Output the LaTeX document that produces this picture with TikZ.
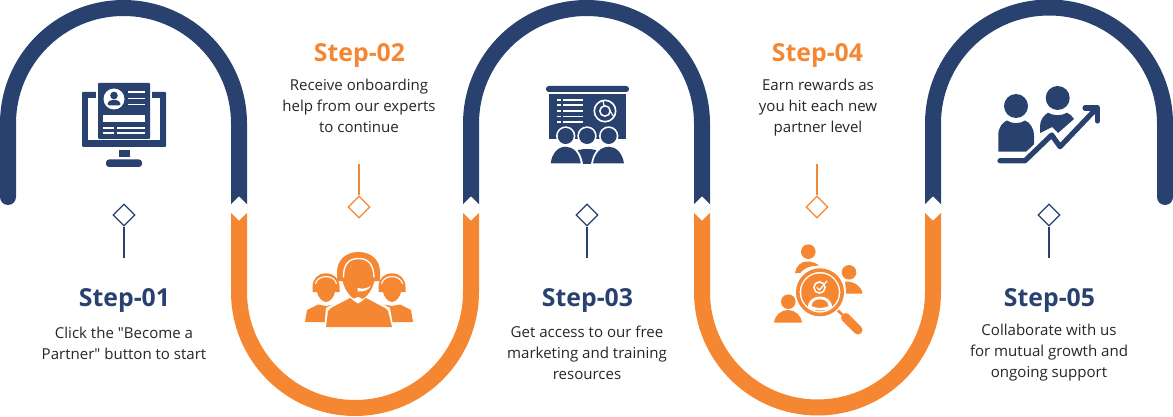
\documentclass[tikz,border=0pt]{standalone}
\usepackage{fontspec}
\setmainfont{Open Sans}
\newfontfamily\plainos{Open Sans}
\definecolor{navy}{HTML}{28416F}
\definecolor{orng}{HTML}{F58733}
\usetikzlibrary{shapes.geometric}
\tikzset{
  band/.style={line width=16pt,line cap=butt},
  title/.style={font=\fontsize{24.8}{28}\selectfont\bfseries,inner sep=0pt,anchor=center},
  body/.style={font=\fontsize{15.05}{21}\selectfont,align=center,inner sep=0pt,anchor=center,text=black!85},
  gem/.style={draw=#1,fill=white,line width=1.3pt,diamond,aspect=1,minimum size=22pt,inner sep=0pt},
  stem/.style={draw=#1,line width=1.3pt},
}
\newcommand{\whitegap}[1]{\fill[white] (#1,196.5) -- (#1+8.6,205) -- (#1+8.6,212) -- (#1,220.5) -- (#1-8.6,212) -- (#1-8.6,205) -- cycle;}
\begin{document}
\begin{tikzpicture}[x=1pt,y=-1pt]
\useasboundingbox (0,0) rectangle (1173,417);
% bands
\draw[band,navy] (8,197) -- (8,123.5) arc[start angle=180,end angle=360,radius=115.5] -- (239,208);
\fill[navy] (8,197) circle[radius=8];
\draw[band,orng] (239,208) -- (239,292) arc[start angle=180,end angle=0,radius=116] -- (471,208);
\draw[band,navy] (471,208) -- (471,123.5) arc[start angle=180,end angle=360,radius=115.5] -- (702,208);
\draw[band,orng] (702,208) -- (702,292) arc[start angle=180,end angle=0,radius=115.5] -- (933,208);
\draw[band,navy] (933,208) -- (933,123.5) arc[start angle=180,end angle=360,radius=116] -- (1165,197);
\fill[navy] (1165,197) circle[radius=8];
\whitegap{239}\whitegap{471}\whitegap{702}\whitegap{933}
% markers
\node[gem=navy] (g1) at (124,215) {};
\coordinate (e1) at (124,258);
\draw[stem=navy] (g1.south) -- (e1);
\node[gem=orng] (g2) at (359,207) {};
\coordinate (e2) at (359,164);
\draw[stem=orng] (g2.north) -- (e2);
\node[gem=navy] (g3) at (587,215) {};
\coordinate (e3) at (587,258);
\draw[stem=navy] (g3.south) -- (e3);
\node[gem=orng] (g4) at (817,207) {};
\coordinate (e4) at (817,164);
\draw[stem=orng] (g4.north) -- (e4);
\node[gem=navy] (g5) at (1049,215) {};
\coordinate (e5) at (1049,258);
\draw[stem=navy] (g5.south) -- (e5);
% texts
\node[title,text=navy] (t1) at (124.5,300.5) {Step-01};
\node[body] (b1) at (124,343) {Click the {\plainos"}Become a\\Partner{\plainos"} button to start};
\node[title,text=orng] (t2) at (359.5,55.5) {Step-02};
\node[body] (b2) at (359,106) {Receive onboarding\\help from our experts\\to continue};
\node[title,text=navy] (t3) at (587.5,300.5) {Step-03};
\node[body] (b3) at (587,353) {Get access to our free\\marketing and training\\resources};
\node[title,text=orng] (t4) at (817.5,55.5) {Step-04};
\node[body] (b4) at (818,108) {Earn rewards as\\you hit each new\\partner level};
\node[title,text=navy] (t5) at (1049.5,300.5) {Step-05};
\node[body] (b5) at (1049,353) {Collaborate with us\\for mutual growth and\\ongoing support};
% icon 1: monitor
\begin{scope}
\fill[navy,rounded corners=1pt] (82,92) rectangle (166,147);
\fill[white] (88,98) rectangle (160,140.5);
\fill[white] (96,90) rectangle (152,99);
\fill[navy,rounded corners=1pt] (98,83) rectangle (150,139);
\fill[navy] (118.5,150) rectangle (129.5,157);
\fill[navy,rounded corners=3pt] (106,159.5) rectangle (142,167);
\fill[white] (114,99) circle[radius=10.5];
\fill[navy] (114,95.5) circle[radius=3.8];
\fill[navy,rounded corners=1.5pt] (107.5,105.5) -- (107.5,102.5) -- (111,100) -- (117,100) -- (120.5,102.5) -- (120.5,105.5) -- cycle;
\fill[white] (103,115.5) rectangle (144.5,122);
\foreach \yy in {92,98.5,104.5}{\fill[white] (128,\yy-0.8) rectangle (144.5,\yy+0.8);}
\foreach \yy in {128,133}{\fill[white] (103,\yy-0.8) rectangle (114,\yy+0.8);\fill[white] (116.5,\yy-0.8) rectangle (144.5,\yy+0.8);}
\end{scope}
% icon 2: headset team
\begin{scope}
\foreach \cx/\sgn in {326/1,392/-1}{
  \begin{scope}[shift={(\cx,0)},xscale=\sgn]
  \fill[orng] (-21,322) -- (-19,310) -- (-8,304.5) -- (0,306) -- (8,304.5) -- (19,310) -- (21,322) -- cycle;
  \fill[orng] (-13.5,292) -- (-13.5,287) .. controls (-13.5,279) and (-8,273.3) .. (0,273.3) .. controls (8,273.3) and (13.5,279) .. (13.5,287) -- (13.5,292) -- (9,292) .. controls (8,297) and (4,302) .. (0,302) .. controls (-4,302) and (-8,297) .. (-9,292) -- cycle;
  \draw[white,line width=1.1pt,line cap=round] (-10.5,283.5) .. controls (-9,279) and (-5,276.6) .. (0,276.6) .. controls (5,276.6) and (9,279) .. (10.5,283.5);
  \end{scope}
}
\fill[white] (324,331) -- (326,308) -- (351,295) -- (367,295) -- (390,308) -- (394,331) -- cycle;
\fill[orng] (326,327) -- (328,311) -- (331,308) -- (350,298) -- (358,303) -- (366,298) -- (385,308) -- (388,311) -- (392,327) -- cycle;
\fill[orng] (337,281) -- (337,272) .. controls (337,261) and (345,252) .. (358.5,252) .. controls (372,252) and (380,261) .. (380,272) -- (380,281) -- (374.5,281) .. controls (372,291) and (365,300) .. (358.5,300) .. controls (352,300) and (345,291) .. (342.5,281) -- cycle;
\fill[white] (358,303.5) -- (352,299.5) -- (358,297) -- (364,299.5) -- cycle;
\draw[white,line width=1.4pt,line cap=round] (343.5,277) .. controls (343.5,265) and (348,258.5) .. (358.5,258.5) .. controls (369,258.5) and (373.5,265) .. (374,277);
\fill[white] (357.5,288) .. controls (364,289.5) and (368,288) .. (371,285.5) .. controls (369,290) and (364,292) .. (357.5,291.5) -- cycle;
\end{scope}
% icon 3: presentation
\begin{scope}
\fill[navy,rounded corners=2.8pt] (546,86) rectangle (629,92);
\fill[navy] (549,94) rectangle (626,139.5);
\foreach \yy in {100,105.3,111,116.7,122}{
  \fill[white] (557,\yy-0.8) rectangle (560.5,\yy+0.8);
  \fill[white] (563,\yy-0.8) rectangle (583,\yy+0.8);}
\draw[white,line width=1.6pt] (605,111) circle[radius=10.7];
\draw[white,line width=1.5pt] (605,111) circle[radius=5.2];
\draw[white,line width=1.2pt] (603,100.5) -- (604,106);
\draw[white,line width=1.2pt] (610,111) -- (614,117);
\fill[white] (550,164) rectangle (625,141);
\fill[navy] (573,164) -- (573,154) .. controls (576,149.5) and (582,149) .. (587,149) .. controls (592,149) and (598,149.5) .. (601,154) -- (601,164) -- cycle;
\fill[white] (548,164) .. controls (550,152) and (556,145) .. (565.7,145) .. controls (575,145) and (581,152) .. (583,164) -- cycle;
\fill[white] (591,164) .. controls (593,152) and (599,145) .. (608.7,145) .. controls (618,145) and (624,152) .. (626,164) -- cycle;
\fill[navy] (550.7,163.5) .. controls (552,153) and (558,146.7) .. (565.7,146.7) .. controls (573,146.7) and (579.5,153) .. (580.7,163.5) -- cycle;
\fill[navy] (593,163.5) .. controls (594.5,153) and (601,146.7) .. (608.7,146.7) .. controls (616,146.7) and (622.5,153) .. (624,163.5) -- cycle;
\foreach \cx in {565.7,587,608.7}{
  \fill[white] (\cx,136) circle[radius=9.7];
  \fill[navy] (\cx,136) circle[radius=8];}
\end{scope}
% icon 4: magnifier and people
\begin{scope}
\fill[orng] (808.3,251.7) circle[radius=7.3];
\fill[orng] (795,273) .. controls (796,266) and (801,261.5) .. (807,261.5) .. controls (812,261.5) and (816,263) .. (819,265.5) .. controls (806,266) and (803,270) .. (800,273) -- cycle;
\fill[orng] (849,272.3) circle[radius=7.3];
\fill[orng] (845,281.5) .. controls (855,281.5) and (861,286) .. (862.5,293.5) -- (846,293.5) .. controls (846,289) and (845.5,285) .. (845,281.5) -- cycle;
\fill[orng] (788.3,301.7) circle[radius=7.3];
\fill[orng] (774,322.7) .. controls (775,315) and (781,310) .. (788,310) .. controls (795,310) and (801,315) .. (802,322.7) -- cycle;
\draw[orng,line width=2.6pt] (836,308.5) -- (842,314.5);
\draw[orng,line width=9pt,line cap=round] (845.5,317.5) -- (858,330);
\fill[white] (820,292.3) circle[radius=25.5];
\draw[orng,line width=3.6pt] (820,292.3) circle[radius=22.2];
\fill[orng] (820,292.3) circle[radius=18.8];
\draw[white,line width=1.5pt] (819.5,287.5) circle[radius=5.6];
\draw[white,line width=1.2pt,line cap=round] (817,287.5) -- (819.5,290) -- (827,281);
\fill[white] (808,307.5) .. controls (808,300) and (814,296.5) .. (820,296.5) .. controls (826,296.5) and (832,300) .. (832,307.5) .. controls (826,311.5) and (814,311.5) .. (808,307.5) -- cycle;
\fill[orng] (811.5,306) .. controls (812,301.5) and (816,299.3) .. (820,299.3) .. controls (824,299.3) and (828,301.5) .. (828.5,306) .. controls (824,308.5) and (816,308.5) .. (811.5,306) -- cycle;
\end{scope}
% icon 5: people and arrow
\begin{scope}
\fill[navy] (1016,106) circle[radius=12];
\fill[navy] (998.3,151.7) -- (998.3,135) .. controls (998.3,127) and (1003,122) .. (1007,120.5) .. controls (1012,124) and (1020,124) .. (1025,120.5) .. controls (1030,122.5) and (1034,128) .. (1034,136) -- (1034,151.7) -- cycle;
\fill[navy] (1057.7,98) circle[radius=12];
\fill[navy] (1040,133) -- (1040,126) .. controls (1040,120) and (1044,115) .. (1048,112.7) .. controls (1053,116) and (1062,116) .. (1067,112.7) .. controls (1070,114) and (1072,116) .. (1074,119) -- (1058,133) -- (1052,127) -- cycle;
\draw[white,line width=11pt,line cap=round,line join=round] (1000,160.7) -- (1025,160.7) -- (1051.7,135) -- (1060,146.7) -- (1095,110);
\draw[navy,line width=5.2pt,line cap=round,line join=round] (1000,160.7) -- (1025,160.7) -- (1051.7,135) -- (1060,146.7) -- (1095,110);
\draw[navy,line width=5.2pt,line cap=round,line join=round] (1085,108) -- (1097.5,108) -- (1097.5,121);
\end{scope}
\end{tikzpicture}
\end{document}
